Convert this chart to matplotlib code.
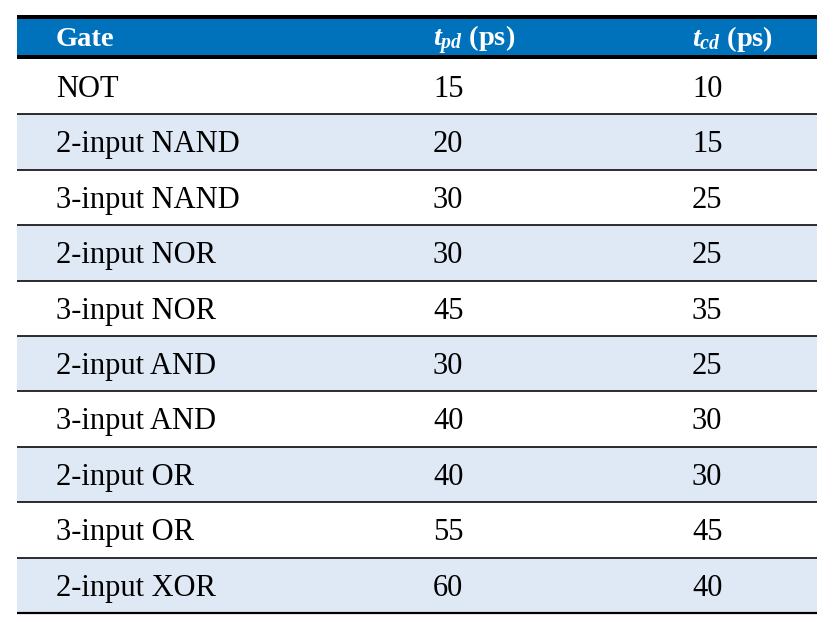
import matplotlib
matplotlib.use("Agg")
import matplotlib.pyplot as plt
from matplotlib.patches import Rectangle

plt.rcParams['font.family'] = ['Liberation Serif', 'DejaVu Serif']
plt.rcParams['mathtext.fontset'] = 'custom'
plt.rcParams['mathtext.it'] = 'Liberation Serif:italic:bold'
plt.rcParams['mathtext.rm'] = 'Liberation Serif:bold'

# ---- data ----
headers = ["Gate", r"$t_{pd}$ (ps)", r"$t_{cd}$ (ps)"]
gates = ["NOT", "2-input NAND", "3-input NAND", "2-input NOR", "3-input NOR",
         "2-input AND", "3-input AND", "2-input OR", "3-input OR", "2-input XOR"]
tpd = [15, 20, 30, 30, 45, 30, 40, 40, 55, 60]
tcd = [10, 15, 25, 25, 35, 25, 30, 30, 45, 40]

# ---- style / layout ----
W, H = 834, 639
PX = 0.72  # points per pixel at dpi 100
header_blue = "#0072BC"
stripe = "#DFE8F5"
left, right = 17, 817
top, header_bot = 15, 59
row_h = 55.4
col_x = [56, 433, 692]

fig = plt.figure(figsize=(W / 100, H / 100), dpi=100)
ax = fig.add_axes([0, 0, 1, 1])
ax.set_xlim(0, W)
ax.set_ylim(H, 0)
ax.axis("off")

# header
ax.add_patch(Rectangle((left, top), right - left, header_bot - top,
                       facecolor=header_blue, edgecolor="none"))
ax.plot([left, right], [top + 2, top + 2], color="black", lw=4 * PX, solid_capstyle="butt")
ax.plot([left, right], [header_bot - 2, header_bot - 2], color="black", lw=4 * PX, solid_capstyle="butt")
for x, h in zip(col_x, headers):
    ax.text(x, 46.5, h, color="white", fontsize=20.5, fontweight="bold",
            ha="left", va="baseline")

# body rows
for i, (g, a, b) in enumerate(zip(gates, tpd, tcd)):
    y0 = header_bot + i * row_h
    if i % 2 == 1:
        ax.add_patch(Rectangle((left, y0), right - left, row_h,
                               facecolor=stripe, edgecolor="none", zorder=0))
    for x, val in zip(col_x, [g, str(a), str(b)]):
        ax.text(x, y0 + 38, val, color="black", fontsize=22,
                ha="left", va="baseline")
    yl = y0 + row_h
    lw = 2.2 if i == len(gates) - 1 else 1.6
    ax.plot([left, right], [yl, yl], color="black", lw=lw * PX, solid_capstyle="butt")

fig.savefig("out.png", dpi=100, facecolor="white")
